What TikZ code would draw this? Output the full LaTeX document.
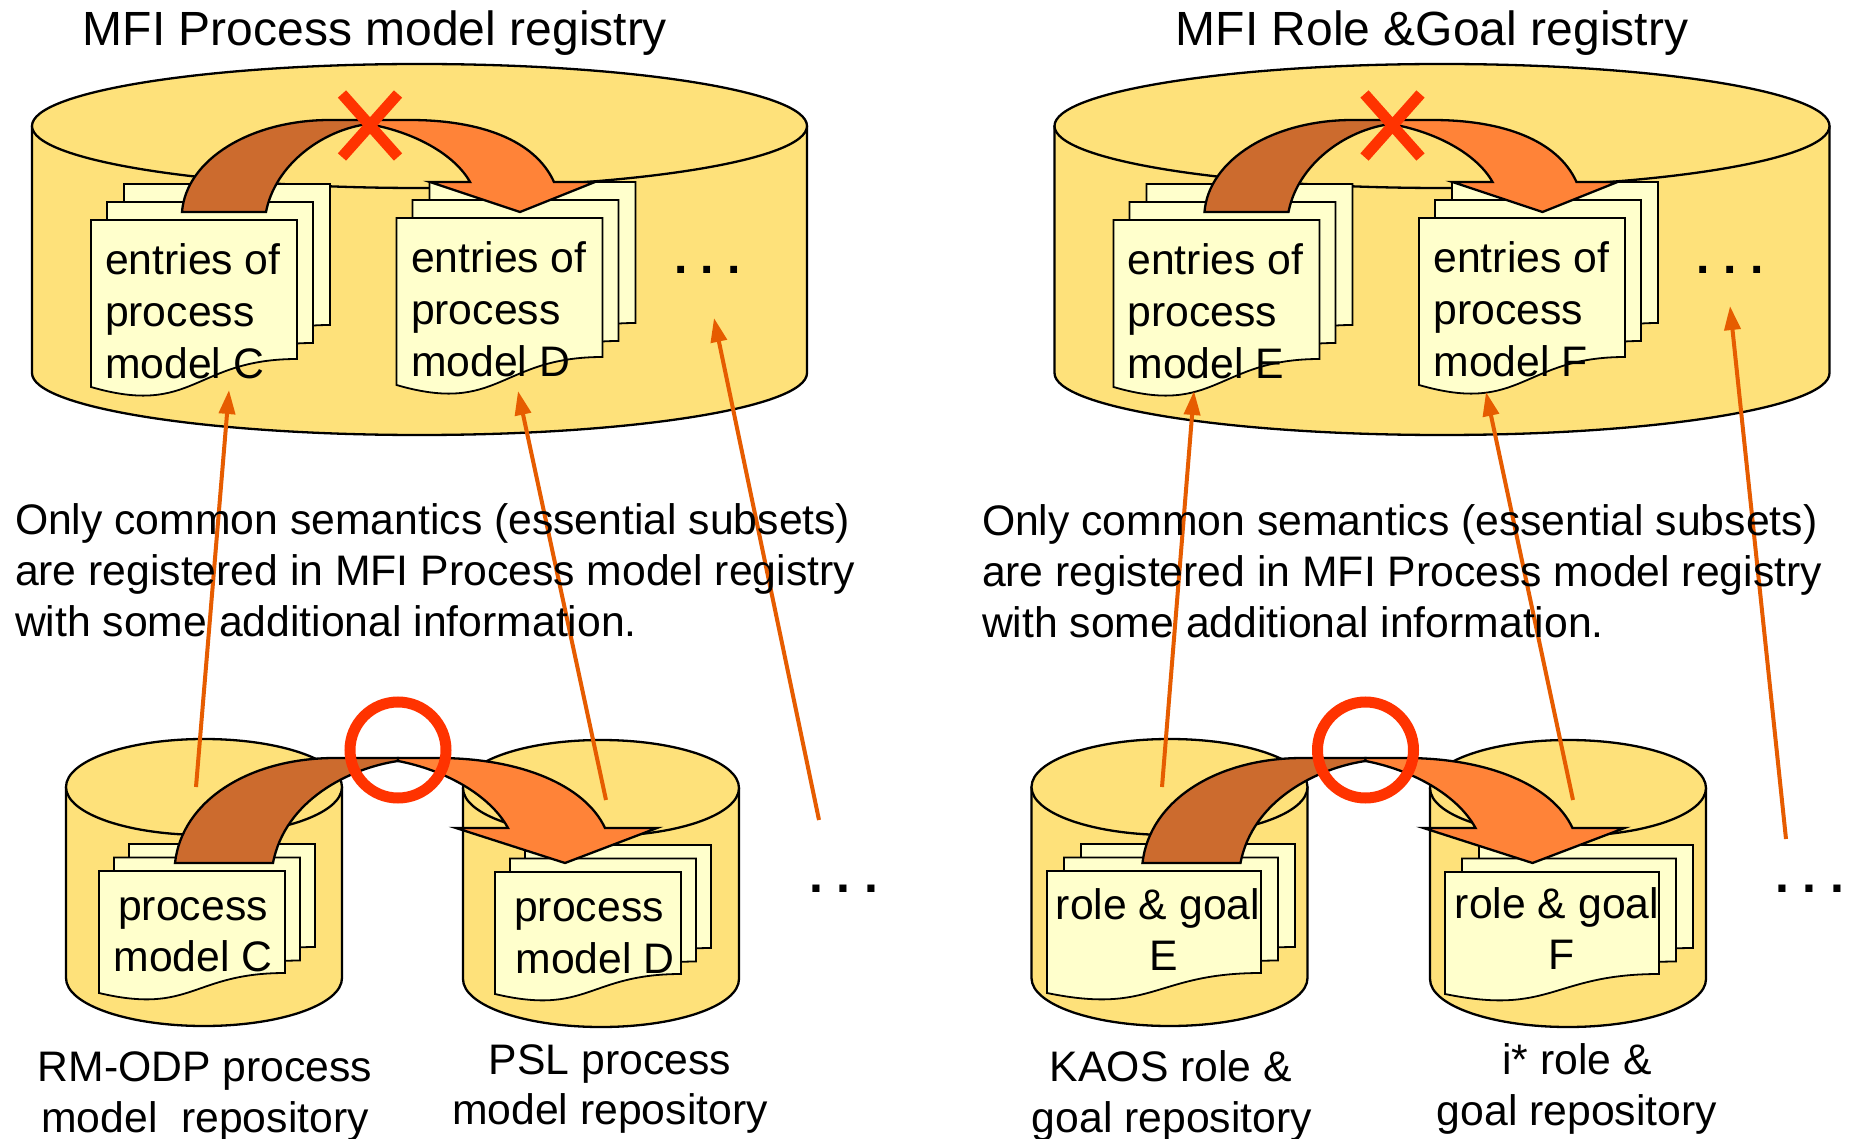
\documentclass[tikz,border=0pt]{standalone}
\usepackage{fontspec}
\setmainfont{Liberation Sans}
\frenchspacing
\usetikzlibrary{arrows.meta}
\definecolor{cyl}{HTML}{FEE17A}
\definecolor{pagec}{HTML}{FFFFCC}
\definecolor{brownarr}{HTML}{CC6B2E}
\definecolor{orangearr}{HTML}{FF8338}
\definecolor{redmark}{HTML}{FF3300}
\definecolor{linkc}{HTML}{E65C00}
\tikzset{
 cylstyle/.style={draw=black,fill=cyl,line width=2.3pt,line join=round},
 pagestyle/.style={draw=black,fill=pagec,line width=1.8pt,line join=miter},
 bigarrow/.style={draw=black,line width=2.3pt,line join=miter},
 linkline/.style={draw=linkc,line width=4pt,-{Triangle[length=24pt,width=16pt]}},
 redsign/.style={draw=redmark},
 txt/.style={inner sep=0pt,outer sep=0pt,font=\fontsize{42.7}{52}\selectfont,anchor=base},
 txtleft/.style={txt,anchor=base west},
 dotsign/.style={inner sep=0pt,anchor=base west,font=\bfseries\fontsize{#1}{#1}\selectfont}
}
\newcommand{\cylin}[5]{%
 \path[cylstyle] ({#1-#4},#2) -- ({#1-#4},#3) arc[start angle=180,end angle=0,x radius=#4,y radius=#5] -- ({#1+#4},#2) -- cycle;
 \path[cylstyle] (#1,#2) ellipse[x radius=#4,y radius=#5];
}
\newcommand{\onepage}[6]{%
 \path[pagestyle] (#1,#2) -- ({#1+#3},#2) -- ({#1+#3},{#2+#4}) .. controls ({#1+.5*#3},{#2+#4}) and ({#1+.5*#3},{#2+#6}) .. (#1,{#2+#5}) -- cycle;
}
\newcommand{\bigstack}[2]{%
 \onepage{#1+33}{#2-36}{206}{141}{167}{197}
 \onepage{#1+16}{#2-18}{206}{141}{167}{197}
 \onepage{#1}{#2}{206}{139}{167}{197}
}
% x, y, width, page offset
\newcommand{\smallstack}[4]{%
 \onepage{#1+2*#4}{#2-27}{#3}{103}{122}{144}
 \onepage{#1+#4}{#2-13.5}{#3}{103}{122}{144}
 \onepage{#1}{#2}{#3}{102}{122}{144}
}
% upper registry: offset, prefix, title, letter1, letter2, title centre
\newcommand{\upperreg}[6]{%
 \begin{scope}[shift={(#1,0)}]
  \node[inner sep=0pt,anchor=base,font=\fontsize{48}{52}\selectfont] (#2title) at (#6,46) {#3};
  \cylin{419.5}{126}{373}{387.5}{62}
  \bigstack{91}{220}
  \bigstack{396.5}{218}
  \path[bigarrow,fill=brownarr] (182,212) .. controls (186,160) and (250,120) .. (330,120) -- (368,120) -- (368,124) .. controls (322,130) and (275,165) .. (266,212) -- cycle;
  \path[bigarrow,fill=orangearr] (368,120) -- (410,120) .. controls (480,120) and (535,140) .. (554,182) -- (595,182) -- (520,212) -- (430,182) -- (470,182) .. controls (455,155) and (415,132) .. (368,124) -- cycle;
  \draw[redsign,line width=11pt] (342,94) -- (398,157);
  \draw[redsign,line width=11pt] (398,94) -- (342,157);
  \node[txtleft] (#2docA) at (105,275) {entries of};
  \node[txtleft] (#2docAb) at (105,327) {process};
  \node[txtleft] (#2docAc) at (105,379) {model #4};
  \node[txtleft] (#2docB) at (411,273) {entries of};
  \node[txtleft] (#2docBb) at (411,325) {process};
  \node[txtleft] (#2docBc) at (411,377) {model #5};
  \node[dotsign=48] (#2dots) at (674,274) {. . .};
 \end{scope}
}
% lower pair: cylinder offsets, arrow offset, stack x1, stack x2, width, page offset
\newcommand{\lowerreg}[7]{%
 \begin{scope}[shift={(#1,0)}] \cylin{204}{787}{978}{138}{48} \end{scope}
 \smallstack{#4}{871}{#6}{#7}
 \begin{scope}[shift={(#2,0)}] \cylin{601}{788}{979}{138}{48} \end{scope}
 \smallstack{#5}{872}{#6}{#7}
 \begin{scope}[shift={(#3,0)}]
  \path[bigarrow,fill=brownarr] (175,863) .. controls (182,800) and (250,758) .. (335,758) -- (398,758) -- (398,761) .. controls (350,768) and (285,800) .. (273,863) -- cycle;
  \path[bigarrow,fill=orangearr] (398,758) -- (438,758) .. controls (520,758) and (585,785) .. (605,828) -- (657,828) -- (565,863) -- (456,828) -- (508,828) .. controls (490,795) and (445,770) .. (398,761) -- cycle;
  \draw[redsign,line width=11pt] (398,750) circle[radius=48];
 \end{scope}
}
\begin{document}
\begin{tikzpicture}[x=1pt,y=-1pt]
\useasboundingbox (0,0) rectangle (1858,1139);
\fill[white] (0,0) rectangle (1858,1139);
\upperreg{0}{a}{MFI Process model registry}{C}{D}{375}
\upperreg{1022.5}{b}{MFI Role \&Goal registry}{E}{F}{409.5}
\lowerreg{0}{0}{0}{99}{495}{186}{15}
\lowerreg{965.5}{967}{967.5}{1047}{1445}{214}{17}
% lower document texts
\node[txt] (t1) at (193,920) {process};
\node[txt] (t2) at (193,971) {model C};
\node[txt] (t3) at (589,921) {process};
\node[txt] (t4) at (595,973) {model D};
\node[txt] (t5) at (1158,919) {role \& goal};
\node[txt] (t6) at (1164,970) {E};
\node[txt] (t7) at (1557,918) {role \& goal};
\node[txt] (t8) at (1562,969) {F};
% link ends
\coordinate (ainA) at (229,390);
\coordinate (ainB) at (518,391);
\coordinate (ainC) at (714,318);
\coordinate (binA) at (1194,391);
\coordinate (binB) at (1486,392);
\coordinate (binC) at (1730,306);
\coordinate (coutA) at (196,787);
\coordinate (coutB) at (606,800);
\coordinate (coutC) at (819,820);
\coordinate (doutA) at (1162,787);
\coordinate (doutB) at (1573,800);
\coordinate (doutC) at (1786,839);
\draw[linkline] (coutA) -- (ainA);
\draw[linkline] (coutB) -- (ainB);
\draw[linkline] (coutC) -- (ainC);
\draw[linkline] (doutA) -- (binA);
\draw[linkline] (doutB) -- (binB);
\draw[linkline] (doutC) -- (binC);
\node[dotsign=50] (cdots) at (809,892) {. . .};
\node[dotsign=50] (ddots) at (1775,892) {. . .};
% paragraphs
\foreach \n/\x/\y in {p/15/534,q/982/535}{
 \node[txtleft] (\n1) at (\x,\y) {Only common semantics (essential subsets)};
 \node[txtleft] (\n2) at (\x,\y+51) {are registered in MFI Process model registry};
 \node[txtleft] (\n3) at (\x,\y+102) {with some additional information.};
}
% captions
\node[txt] (c1) at (205,1081) {RM-ODP process};
\node[txt] (c2) at (205,1132) {model\ \ repository};
\node[txt] (c3) at (610,1074) {PSL process};
\node[txt] (c4) at (610,1124) {model repository};
\node[txt] (c5) at (1171,1081) {KAOS role \&};
\node[txt] (c6) at (1172,1132) {goal repository};
\node[txt] (c7) at (1577,1074) {i* role \&};
\node[txt] (c8) at (1577,1125) {goal repository};
\end{tikzpicture}
\end{document}
